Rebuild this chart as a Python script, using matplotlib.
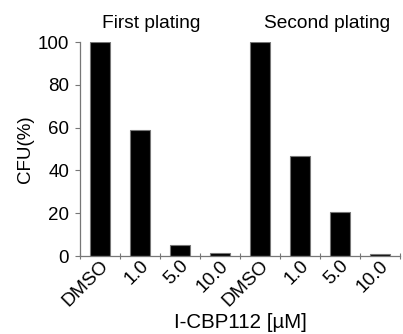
import numpy as np
import matplotlib
matplotlib.use('Agg')
import matplotlib.pyplot as plt
import matplotlib.transforms as mtransforms

plt.rcParams['font.family'] = ['Liberation Sans', 'DejaVu Sans']

# Data
conc_labels = ['DMSO', '1.0', '5.0', '10.0', 'DMSO', '1.0', '5.0', '10.0']
first_plating = [100, 58.7, 5.2, 1.5]
second_plating = [100, 46.7, 20.7, 1.0]
group_titles = ['First plating', 'Second plating']

values = first_plating + second_plating
x = np.arange(len(values))

fig = plt.figure(figsize=(4.03, 3.34), dpi=100)
ax = fig.add_axes([0.1985, 0.2335, 0.794, 0.6405])

ax.bar(x, values, width=0.5, color='black', edgecolor='#777777', linewidth=0.8)

ax.set_xlim(-0.5, len(values) - 0.5)
ax.set_ylim(0, 100)
ax.set_yticks(range(0, 101, 20))

# ticks on the bar boundaries, labels at the bar centres
ax.set_xticks(np.arange(-0.5, len(values), 1.0))
ax.set_xticklabels([])
ax.set_xticks(x, minor=True)
ax.set_xticklabels(conc_labels, minor=True, rotation=45, ha='right', va='top',
                   rotation_mode='anchor', fontsize=13.8)
offset = mtransforms.ScaledTranslation(12 / 100, -2 / 100, fig.dpi_scale_trans)
for lab in ax.get_xticklabels(minor=True):
    lab.set_transform(lab.get_transform() + offset)
ax.tick_params(axis='x', which='minor', length=0, pad=1)
ax.tick_params(axis='x', which='major', length=5, direction='inout', color='#777777')
ax.tick_params(axis='y', length=3.6, color='#777777', labelsize=13.5, pad=4.3)

for s in ['top', 'right']:
    ax.spines[s].set_visible(False)
for s in ['left', 'bottom']:
    ax.spines[s].set_color('#777777')
    ax.spines[s].set_linewidth(0.9)

ax.set_ylabel('CFU(%)', fontsize=13.5)
ax.yaxis.set_label_coords(-0.144, 0.5)
ax.set_xlabel('I-CBP112 [\u00b5M]', fontsize=14.8)
ax.xaxis.set_label_coords(0.5, -0.268)

ax.text(1.29, 1.065, group_titles[0], transform=ax.get_xaxis_transform(),
        ha='center', va='baseline', fontsize=13.8)
ax.text(5.67, 1.065, group_titles[1], transform=ax.get_xaxis_transform(),
        ha='center', va='baseline', fontsize=13.8)

fig.savefig('out.png', dpi=100)
